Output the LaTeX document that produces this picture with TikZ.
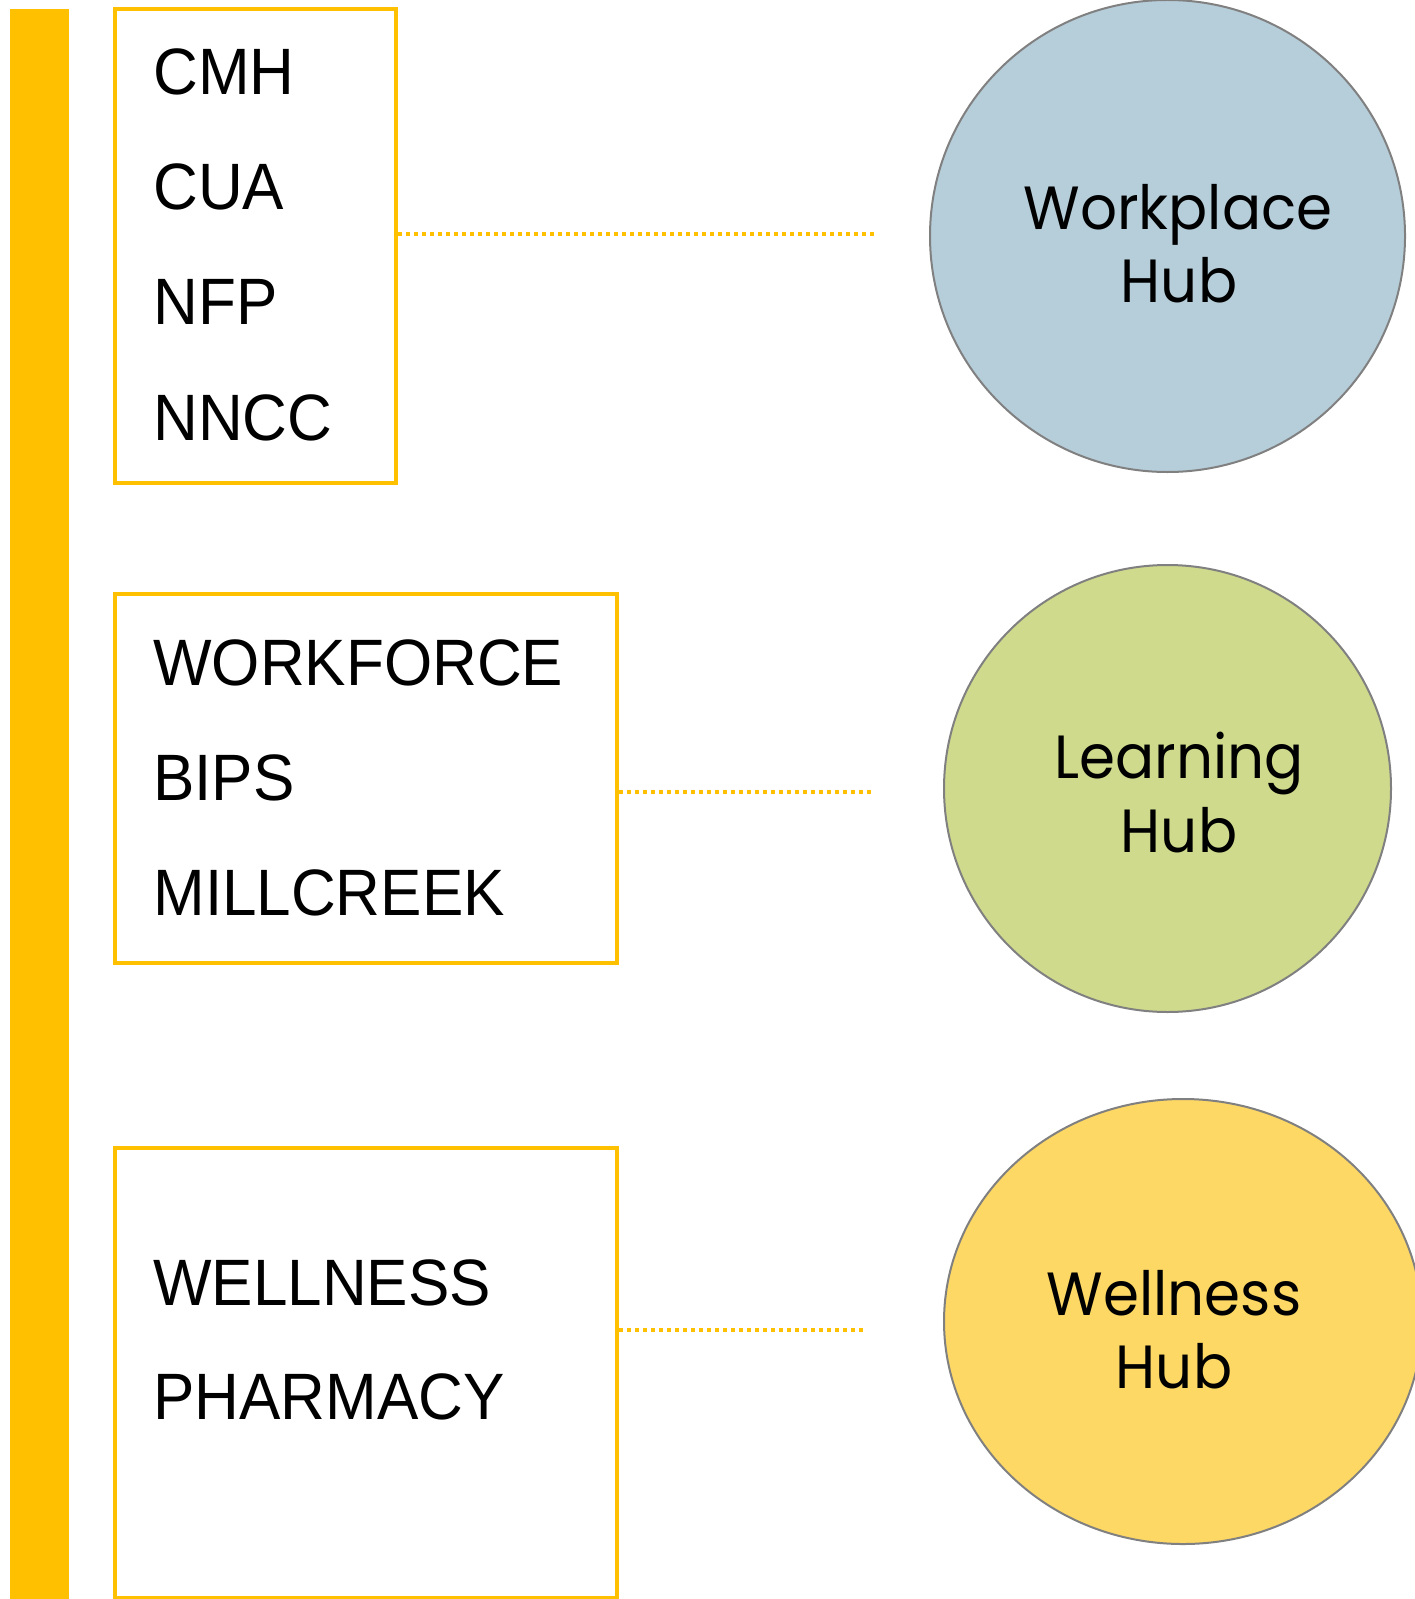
\documentclass[tikz,border=0pt]{standalone}
\usepackage{fontspec}
\usetikzlibrary{shapes.geometric}
\newfontfamily\boxfont[FakeStretch=0.945]{Liberation Sans}
\newfontfamily\hubfont[FakeStretch=0.95]{Poppins}
\definecolor{gold}{HTML}{FFC000}
\definecolor{hubgray}{HTML}{808080}
\definecolor{bluehub}{HTML}{B6CEDA}
\definecolor{greenhub}{HTML}{CFDA8C}
\definecolor{yellowhub}{HTML}{FDD865}
\tikzset{
  groupbox/.style={draw=gold, line width=1.6pt, fill=white, inner sep=0pt, outer sep=0pt},
  itemtext/.style={anchor=base west, inner sep=0pt, font=\boxfont\fontsize{32.8pt}{39pt}\selectfont},
  hub/.style={ellipse, draw=hubgray, line width=1pt, inner sep=0pt, outer sep=0pt},
  hubtext/.style={anchor=base, inner sep=0pt, font=\hubfont\fontsize{30.5pt}{36pt}\selectfont},
  link/.style={draw=gold, line width=1.75pt, dash pattern=on 1.75pt off 2.25pt}
}
\begin{document}
\begin{tikzpicture}[x=0.5pt,y=-0.5pt]
\useasboundingbox (0,0) rectangle (1414,1599);
% vertical bar
\node[fill=gold, inner sep=0pt, outer sep=0pt, minimum width=29.5pt, minimum height=795pt] (bar) at (39.5,804) {};
% group boxes
\node[groupbox, minimum width=140.5pt, minimum height=237pt] (box1) at (255.5,246) {};
\node[groupbox, minimum width=251pt, minimum height=184.5pt] (box2) at (366,778.5) {};
\node[groupbox, minimum width=251pt, minimum height=225pt] (box3) at (366,1373) {};
% item texts
\node[itemtext] (cmh) at (153,95) {CMH};
\node[itemtext] (cua) at (153,210) {CUA};
\node[itemtext] (nfp) at (153,325) {NFP};
\node[itemtext] (nncc) at (153,440) {NNCC};
\node[itemtext] (workforce) at (153,685) {WORKFORCE};
\node[itemtext] (bips) at (153,800) {BIPS};
\node[itemtext] (millcreek) at (153,915) {MILLCREEK};
\node[itemtext] (wellness) at (153,1305) {WELLNESS};
\node[itemtext] (pharmacy) at (153,1419) {PHARMACY};
% hubs
\node[hub, fill=bluehub, minimum width=237.5pt, minimum height=236pt] (work) at (1167.5,236) {};
\node[hub, fill=greenhub, minimum width=223.5pt, minimum height=223.5pt] (learn) at (1167.5,788.5) {};
\node[hub, fill=yellowhub, minimum width=239pt, minimum height=222.5pt] (well) at (1183,1321.5) {};
\node[hubtext] (workA) at (1178,230) {Workplace};
\node[hubtext] (workB) at (1179,303) {Hub};
\node[hubtext] (learnA) at (1179,778) {Learning};
\node[hubtext] (learnB) at (1179,852) {Hub};
\node[hubtext] (wellA) at (1174,1315) {Wellness};
\node[hubtext] (wellB) at (1174,1388) {Hub};
% connectors
\coordinate (end1) at (875,234);
\coordinate (end2) at (872,792);
\coordinate (end3) at (866,1330);
\draw[link] ([xshift=1.2pt]box1.east |- end1) -- (end1);
\draw[link] ([xshift=1.2pt]box2.east |- end2) -- (end2);
\draw[link] ([xshift=1.2pt]box3.east |- end3) -- (end3);
\end{tikzpicture}
\end{document}
